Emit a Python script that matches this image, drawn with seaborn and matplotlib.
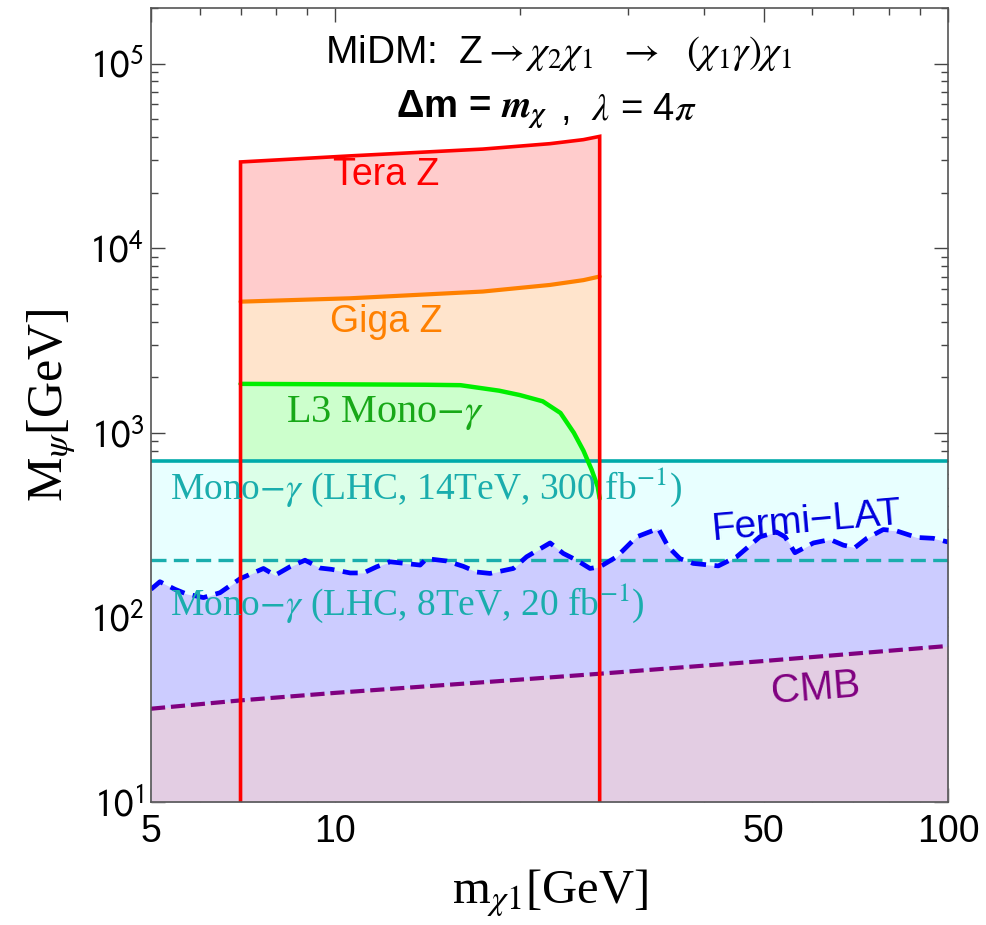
import numpy as np
import matplotlib.pyplot as plt
import pandas as pd
import seaborn as sns
from matplotlib.ticker import FixedLocator, FixedFormatter, LogLocator, NullFormatter

# curves (x = m_chi1 [GeV], y = M_psi [GeV])
tera_x = [7.0, 10.56, 17.4, 22.4, 25.4, 27.0]
tera_y = [29300, 31600, 34400, 36800, 38700, 40300]
giga_x = [7.0, 10.56, 17.4, 22.4, 25.4, 27.0]
giga_y = [5130, 5350, 5820, 6320, 6710, 7020]
l3_x = [7.0, 10.0, 14.0, 16.0, 18.5, 20.0, 21.8, 23.3, 24.5, 25.4, 26.2, 26.8, 27.0]
l3_y = [1840, 1830, 1820, 1810, 1690, 1600, 1480, 1280, 1000, 800, 630, 510, 440]
fermi_x = [5.0, 5.17, 5.47, 5.71, 6.09, 6.48, 6.99, 7.63, 7.97, 8.43, 8.92, 9.44, 9.86,
           10.57, 11.11, 11.68, 12.28, 13.75, 14.09, 15.19, 16.17, 17.01, 17.88, 19.52,
           20.52, 22.41, 23.55, 24.76, 26.04, 27.03, 28.79, 31.03, 33.66, 34.94, 36.51,
           38.38, 42.17, 45.2, 49.3, 52.5, 54.2, 56.25, 60.3, 64.2, 67.5, 70.5, 73.7,
           78.4, 82.4, 88.9, 94.6, 100.0]
fermi_y = [142, 156, 142, 134, 128, 136, 162, 184, 169, 188, 204, 185, 182,
           174, 174, 188, 200, 192, 208, 202, 189, 176, 173, 184,
           213, 253, 222, 204, 184, 188, 213, 273, 303, 241, 208,
           196, 190, 213, 273, 290, 273, 224, 253, 264, 246, 239, 268,
           299, 294, 271, 268, 256]
cmb_x = [5, 7, 10, 20, 27, 50, 100]
cmb_y = [32, 35.5, 39, 46, 49.5, 58, 70]
x_range = [5, 100]
mono14_y = [705, 705]
mono8_y = [205, 205]

x_ticks = [5, 10, 50, 100]
x_tick_labels = ['5', '10', '50', '100']
x_minor = [6, 7, 8, 9, 20, 30, 40, 60, 70, 80, 90]
y_ticks = [10, 100, 1000, 1e4, 1e5]
y_tick_labels = [r'$\mathsf{10}^{\mathsf{%d}}$' % k for k in range(1, 6)]

sns.set_theme(style='ticks')
plt.rcParams['font.family'] = ['Liberation Sans', 'DejaVu Sans']
plt.rcParams['mathtext.fontset'] = 'stix'

fig, ax = plt.subplots(figsize=(9.87, 9.25), dpi=100)
fig.subplots_adjust(left=0.153, right=0.9605, bottom=0.133, top=0.9914)
ax.set_xscale('log')
ax.set_yscale('log')

# filled regions (opaque, stacked like the original)
ax.fill_between(x_range, 10, mono14_y, color='#E8FFFF', lw=0, zorder=1)
ax.fill_between(tera_x, giga_y, tera_y, color='#FFCCCC', lw=0, zorder=2)
ax.fill(giga_x + l3_x[::-1], giga_y + l3_y[::-1], color='#FFE4CC', lw=0, zorder=2)
ax.fill(l3_x + [l3_x[-1], l3_x[0]], l3_y + [10, 10], color='#CCFFCC', lw=0, zorder=2.2)
ax.fill_between([l3_x[0], l3_x[-1]], 10, mono14_y, color='#DCFFE8', lw=0, zorder=2.4)
ax.fill_between(fermi_x, 10, fermi_y, color='#CCCCFF', lw=0, zorder=3)
ax.fill_between(cmb_x, 10, cmb_y, color='#E3CDE3', lw=0, zorder=3.1)

# boundary lines
sns.lineplot(x=x_range, y=mono14_y, color='#00AAAA', lw=2.6, ax=ax, zorder=4)
sns.lineplot(x=x_range, y=mono8_y, color='#1AADAD', lw=2.4, ax=ax, zorder=4)
ax.lines[-1].set_dashes((4.5, 2.2))
sns.lineplot(x=fermi_x, y=fermi_y, color='#0000FF', lw=3.4, ax=ax, zorder=4.2)
ax.lines[-1].set_dashes((3.2, 1.8))
sns.lineplot(x=cmb_x, y=cmb_y, color='#800080', lw=3.0, ax=ax, zorder=4.2)
ax.lines[-1].set_dashes((3.4, 1.4))
sns.lineplot(x=giga_x, y=giga_y, color='#FF8000', lw=3.0, ax=ax, zorder=5)
sns.lineplot(x=l3_x, y=l3_y, color='#00EE00', lw=3.2, ax=ax, zorder=5.5)
box_x = [tera_x[0]] + tera_x + [tera_x[-1]]
box_y = [10] + tera_y + [10]
ax.plot(box_x, box_y, color='#FF0000', lw=2.6, zorder=6, solid_joinstyle='miter')

ax.set_xlim(5, 100)
ax.set_ylim(10, 2e5)

# labels inside the plot
ax.text(0.511, 0.943, r'MiDM:  Z$\rightarrow\chi_2\chi_1$  $\rightarrow$  $(\chi_1\gamma)\chi_1$',
        transform=ax.transAxes, ha='center', va='center', fontsize=28, color='black')
ax.text(0.497, 0.8715, r'Δm = $\mathbfit{m}_{\mathbfit{\chi}}$', fontweight='bold',
        transform=ax.transAxes, ha='right', va='center', fontsize=27.5, color='black')
ax.text(0.513, 0.8715, r',  $\lambda$ = 4$\pi$', transform=ax.transAxes,
        ha='left', va='center', fontsize=27.5, color='black')
ax.text(12.1, 25000, 'Tera Z', color='#FF0000', fontsize=27, ha='center', va='center', zorder=7)
ax.text(12.1, 3980, 'Giga Z', color='#FF8000', fontsize=27, ha='center', va='center', zorder=7)
ax.text(12.05, 1280, r'L3 Mono$-\gamma$', color='#18A818', fontsize=29,
        family='Liberation Serif', ha='center', va='center', zorder=7)
ax.text(5.37, 508, r'Mono$-\gamma$ (LHC, 14TeV, 300 fb$^{-1}$)', color='#1AADAD',
        fontsize=27, family='Liberation Serif', ha='left', va='center', zorder=7)
ax.text(5.37, 119, r'Mono$-\gamma$ (LHC, 8TeV, 20 fb$^{-1}$)', color='#1AADAD',
        fontsize=27, family='Liberation Serif', ha='left', va='center', zorder=7)
ax.text(58.9, 330, 'Fermi\u2212LAT', color='#0000DD', fontsize=28, rotation=5,
        ha='center', va='center', zorder=7)
ax.text(60.7, 41.3, 'CMB', color='#800080', fontsize=29, rotation=4.5,
        ha='center', va='center', zorder=7)

# axes styling (Mathematica-like frame)
ax.xaxis.set_major_locator(FixedLocator(x_ticks))
ax.xaxis.set_major_formatter(FixedFormatter(x_tick_labels))
ax.xaxis.set_minor_locator(FixedLocator(x_minor))
ax.xaxis.set_minor_formatter(NullFormatter())
ax.yaxis.set_major_locator(FixedLocator(y_ticks))
ax.yaxis.set_major_formatter(FixedFormatter(y_tick_labels))
ax.yaxis.set_minor_locator(LogLocator(base=10, subs=np.arange(2, 10)))
ax.yaxis.set_minor_formatter(NullFormatter())
ax.tick_params(which='both', direction='in', top=True, right=True, color='#444444', width=1)
ax.tick_params(which='major', length=10)
ax.tick_params(which='minor', length=5)
ax.tick_params(axis='x', labelsize=27, pad=9, labelcolor='black')
ax.tick_params(axis='y', labelsize=28, pad=5, labelcolor='black')
for s in ax.spines.values():
    s.set_color('#555555')
    s.set_linewidth(1.2)
    s.set_zorder(8)

ax.set_xlabel(r'm$_{\chi 1}$[GeV]', fontsize=35, family='Liberation Serif',
              labelpad=12, color='black')
ax.set_ylabel(r'M$_{\psi}$[GeV]', fontsize=36, family='Liberation Serif',
              labelpad=8, color='black')

fig.savefig('out.png', dpi=100)
